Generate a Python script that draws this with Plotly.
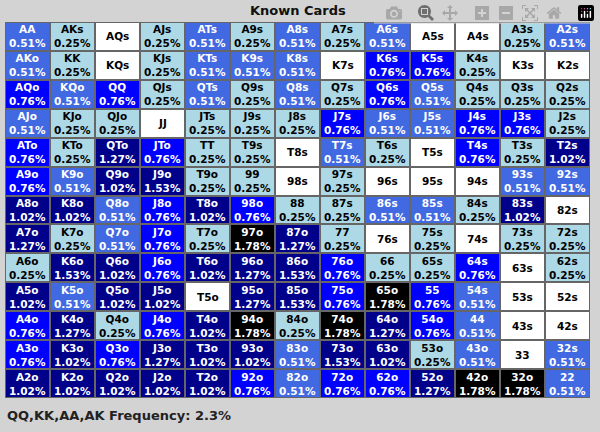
import plotly.graph_objects as go

ranks = ["A", "K", "Q", "J", "T", "9", "8", "7", "6", "5", "4", "3", "2"]

# frequency (%) per cell, rows/cols in rank order; above diagonal suited, below offsuit
freq = [
    [0.51, 0.25, 0, 0.25, 0.51, 0.25, 0.51, 0.25, 0.51, 0, 0, 0.25, 0.51],
    [0.51, 0.25, 0, 0.25, 0.51, 0.51, 0.51, 0, 0.76, 0.76, 0.25, 0, 0],
    [0.76, 0.51, 0.76, 0.25, 0.51, 0.25, 0.51, 0.25, 0.76, 0.51, 0.25, 0.25, 0.25],
    [0.51, 0.25, 0.25, 0, 0.25, 0.25, 0.25, 0.76, 0.51, 0.51, 0.76, 0.76, 0.25],
    [0.76, 0.25, 1.27, 0.76, 0.25, 0.25, 0, 0.51, 0.25, 0, 0.76, 0.25, 1.02],
    [0.76, 0.51, 1.02, 1.53, 0.25, 0.25, 0, 0.25, 0, 0, 0, 0.51, 0.51],
    [1.02, 1.02, 0.51, 0.76, 1.02, 0.76, 0.25, 0.25, 0.51, 0.51, 0.25, 1.02, 0],
    [1.27, 0.25, 0.51, 0.76, 0.25, 1.78, 1.27, 0.25, 0, 0.25, 0, 0.25, 0.25],
    [0.25, 1.53, 1.02, 0.76, 1.02, 1.27, 1.53, 0.76, 0.25, 0.25, 0.76, 0, 0.25],
    [1.02, 0.51, 1.02, 1.02, 0, 1.27, 1.53, 0.76, 1.78, 0.76, 0.51, 0, 0],
    [0.76, 1.27, 0.25, 0.76, 1.02, 1.78, 0.25, 1.78, 1.27, 0.76, 0.51, 0, 0],
    [0.76, 1.02, 0.76, 1.27, 1.02, 1.02, 0.51, 1.53, 1.02, 0.25, 0.51, 0, 0.51],
    [1.02, 1.02, 1.02, 1.02, 1.02, 0.76, 0.51, 0.76, 0.76, 1.27, 1.78, 1.78, 0.51],
]

levels = [0, 0.25, 0.51, 0.76, 1.02, 1.78]
colors = ["#ffffff", "#add8e6", "#4169e1", "#0000ff", "#00008b", "#000000"]


def level(v):
    if v >= 1.78:
        return 5
    if v >= 1.02:
        return 4
    return levels.index(v)


n = len(ranks)
z, txt = [], []
for i in range(n):
    zr, tr = [], []
    for j in range(n):
        if i == j:
            name = ranks[i] * 2
        elif j > i:
            name = ranks[i] + ranks[j] + "s"
        else:
            name = ranks[j] + ranks[i] + "o"
        v = freq[i][j]
        zr.append(level(v))
        tr.append(f"<b>{name}</b>" if v == 0 else f"<b>{name}<br>{v:.2f}%</b>")
    z.append(zr)
    txt.append(tr)

cs = []
for k, c in enumerate(colors):
    cs += [[k / 6, c], [(k + 1) / 6, c]]

fig = go.Figure(go.Heatmap(
    z=z, zmin=0, zmax=6, colorscale=cs, showscale=False, xgap=2, ygap=2,
    hoverinfo="skip",
))

for i in range(n):
    for j in range(n):
        fig.add_annotation(x=j, y=i, text=txt[i][j], showarrow=False,
                           font=dict(family="DejaVu Sans", size=10.5,
                                     color="black" if z[i][j] <= 1 else "white"))

fig.add_annotation(x=0.5, y=1, xref="paper", yref="paper", yanchor="bottom", yshift=2,
                   text="<b>Known Cards</b>", showarrow=False,
                   font=dict(family="DejaVu Sans", size=13, color="#111"))
fig.add_annotation(x=0, y=0, xref="paper", yref="paper", xanchor="left", yanchor="top",
                   yshift=-8, text="<b>QQ,KK,AA,AK Frequency: 2.3%</b>", showarrow=False,
                   font=dict(family="DejaVu Sans", size=13, color="#222"))

fig.update_layout(
    width=600, height=432, margin=dict(l=5, r=10, t=22, b=34),
    paper_bgcolor="#d3d3d3", plot_bgcolor="#666666",
    xaxis=dict(visible=False, range=[-0.5, n - 0.5]),
    yaxis=dict(visible=False, range=[n - 0.5, -0.5]),
)
fig.write_html("out.html", post_script="document.body.style.margin='0';")
